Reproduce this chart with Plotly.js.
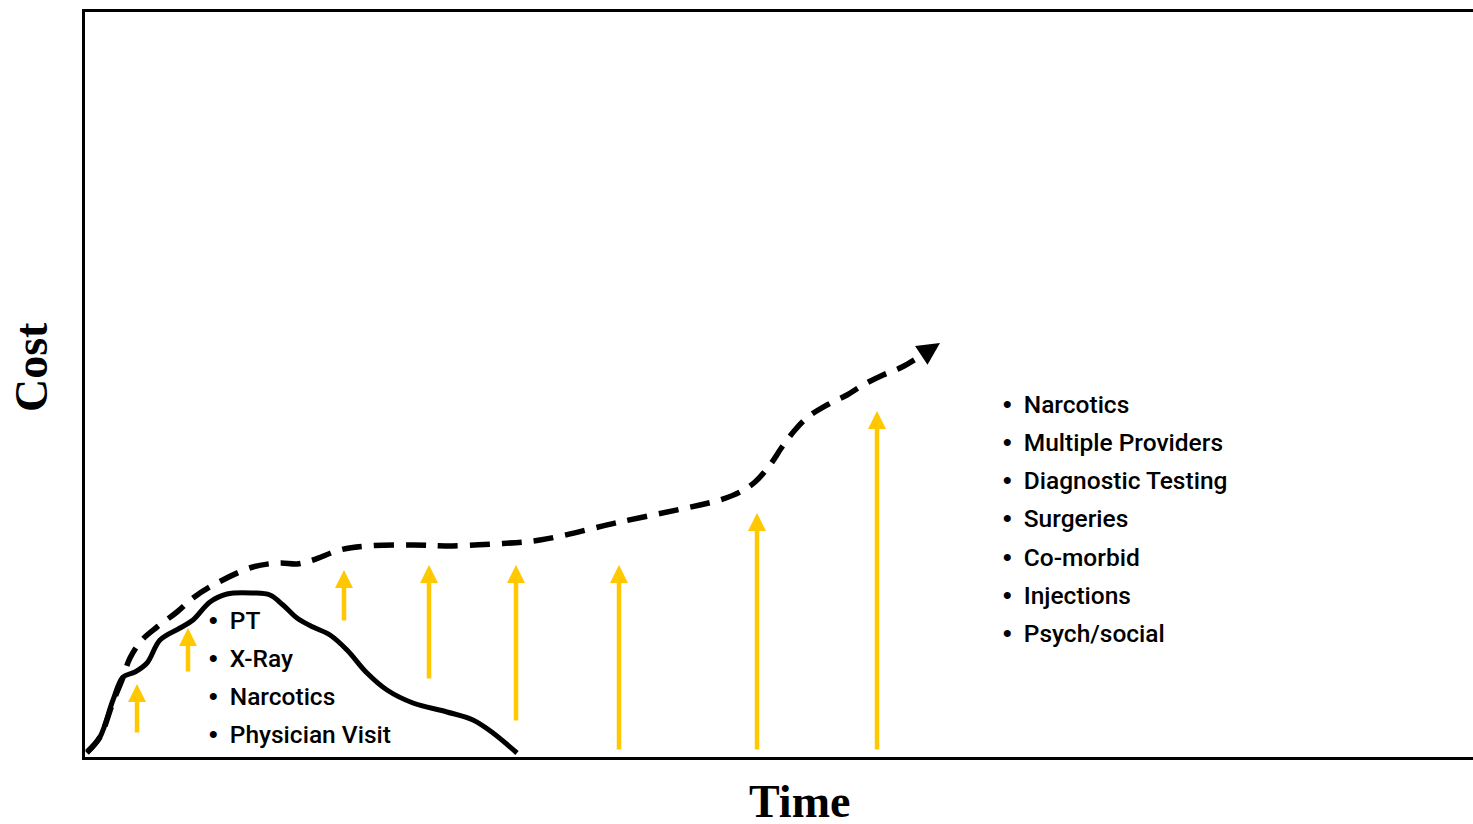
<!DOCTYPE html>
<html>
<head>
<meta charset="utf-8">
<script src="https://cdn.plot.ly/plotly-3.0.1.min.js"></script>
<style>html,body{margin:0;padding:0;background:#fff;}#chart{width:1473px;height:824px;}</style>
</head>
<body>
<div id="chart"></div>
<script>
// Acute episode (solid curve)
var acuteTime = [2,15,28,38,50,62,75,95,108,125,142,168,185,198,212,228,245,262,282,302,328,362,388,408,432];
var acuteCost = [4,20,57,80,85,94,117,129,137,155,163,164,162,152,139,130,122,107,84,67,54,45,37,24,4];

// Chronic episode (dashed curve)
var chronicTime = [2,15,28,37,45,57,72,92,108,132,168,195,212,228,255,282,328,362,408,455,535,615,635,655,670,685,697,710,723,742,762,778,798,817,837];
var chronicCost = [5,20,55,77,99,117,130,145,159,174,190,194,193,197,207,211,212,211,213,217,235,252,257,265,275,292,310,327,340,352,362,372,382,390,402];
var chronicTip = [855,414];

// Rising cost arrows (yellow)
var arrowTime   = [52,103,259,344,431,534,672,792];
var arrowBottom = [23,84,135,77,35,6,6,6];
var arrowTop    = [73,129,187,192,192,192,244,346];

// Bullet lists
var acuteItems = ["PT","X-Ray","Narcotics","Physician Visit"];
var chronicItems = ["Narcotics","Multiple Providers","Diagnostic Testing","Surgeries","Co-morbid","Injections","Psych/social"];

var traces = [
  {x: chronicTime, y: chronicCost, mode: 'lines', type: 'scatter',
   line: {color: '#000', width: 5.5, dash: '20px,12px', shape: 'spline', smoothing: 1},
   hoverinfo: 'skip', showlegend: false},
  {x: acuteTime, y: acuteCost, mode: 'lines', type: 'scatter',
   line: {color: '#000', width: 5, shape: 'spline', smoothing: 1},
   hoverinfo: 'skip', showlegend: false}
];

var annotations = [];
var YEL = '#FFC800';
for (var i = 0; i < arrowTime.length; i++) {
  annotations.push({x: arrowTime[i], y: arrowTop[i], ax: arrowTime[i], ay: arrowBottom[i],
    xref: 'x', yref: 'y', axref: 'x', ayref: 'y', text: '', showarrow: true,
    arrowhead: 2, arrowsize: 0.8, arrowwidth: 4.5, arrowcolor: YEL});
}
annotations.push({x: chronicTip[0], y: chronicTip[1],
  ax: chronicTime[chronicTime.length-1], ay: chronicCost[chronicCost.length-1],
  xref: 'x', yref: 'y', axref: 'x', ayref: 'y', text: '', showarrow: true,
  arrowhead: 2, arrowsize: 0.9, arrowwidth: 5, arrowcolor: '#000'});

var bulletFont = {family: 'Roboto, Liberation Sans, Arial, sans-serif', size: 24.5, weight: 500, color: '#000'};
var bullet = '<span style="font-family:Liberation Sans;font-weight:bold">•</span>&nbsp; ';
acuteItems.forEach(function(t, k) {
  annotations.push({x: 122, y: 137 - k*38.3, xref: 'x', yref: 'y', text: bullet + t,
    showarrow: false, xanchor: 'left', yanchor: 'middle', font: bulletFont});
});
chronicItems.forEach(function(t, k) {
  annotations.push({x: 916, y: 353 - k*38.3, xref: 'x', yref: 'y', text: bullet + t,
    showarrow: false, xanchor: 'left', yanchor: 'middle', font: bulletFont});
});

var titleFont = {family: 'Liberation Serif, Times New Roman, serif', size: 46, color: '#000'};
// paper coordinates for the titles (outside the plotting area)
annotations.push({x: (799-85)/1388, y: (757-801)/745, xref: 'paper', yref: 'paper', text: '<b>Time</b>', showarrow: false,
  height: 44, xanchor: 'center', yanchor: 'middle', font: titleFont});
annotations.push({x: (31-85)/1388, y: (757-367)/745, xref: 'paper', yref: 'paper', text: '<b>Cost</b>', showarrow: false,
  textangle: -90, xanchor: 'center', yanchor: 'middle', font: titleFont});

var axisBase = {showgrid: false, zeroline: false, showticklabels: false, ticks: '',
  showline: true, mirror: true, linecolor: '#000', linewidth: 3, fixedrange: true};

var layout = {
  width: 1473, height: 824,
  margin: {l: 85, r: 0, t: 12, b: 67, pad: 0},
  paper_bgcolor: '#fff', plot_bgcolor: '#fff',
  xaxis: Object.assign({range: [0, 1388]}, axisBase),
  yaxis: Object.assign({range: [0, 745]}, axisBase),
  annotations: annotations,
  showlegend: false
};

Plotly.newPlot('chart', traces, layout, {displayModeBar: false, staticPlot: true});
</script>
</body>
</html>
